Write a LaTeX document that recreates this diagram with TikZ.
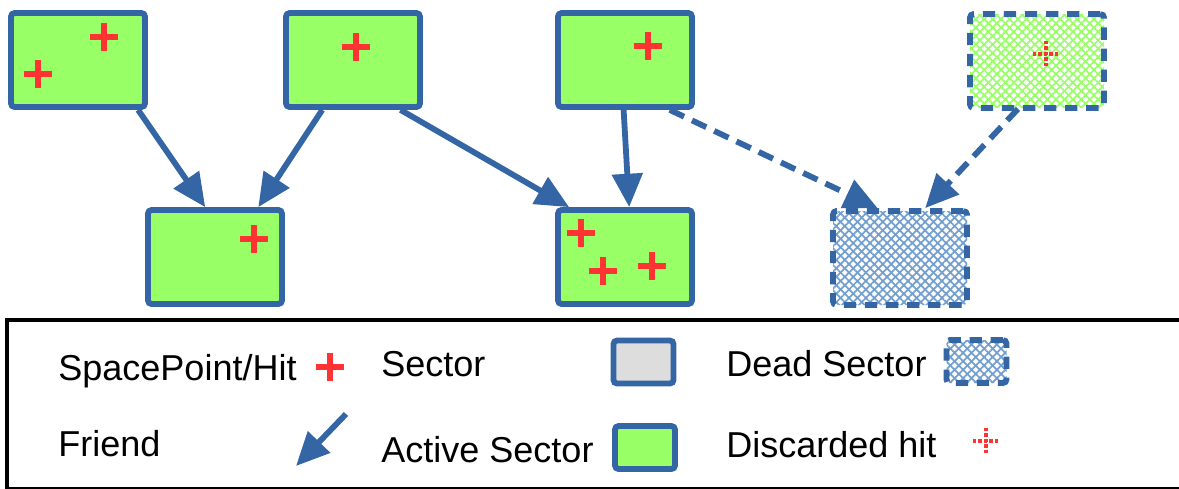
\documentclass[tikz,border=0pt]{standalone}
\usepackage{fontspec}
\setmainfont{Liberation Sans}
\usetikzlibrary{arrows.meta}
\usetikzlibrary{calc}
\usetikzlibrary{patterns.meta}

\definecolor{secblue}{HTML}{3465A4}
\definecolor{secgreen}{HTML}{99FF66}
\definecolor{secgrey}{HTML}{DDDDDD}
\definecolor{hitred}{HTML}{FF3333}
\definecolor{hatchblue}{HTML}{729FCF}

\tikzset{
	sector/.style={draw=secblue, line width=3.3pt, rounded corners=2pt, inner sep=0pt,
		minimum width=2.68cm, minimum height=1.88cm},
	active/.style={sector, fill=secgreen},
	dead/.style={sector, dash pattern=on 7pt off 5pt,
		preaction={pattern={Lines[angle=45,distance=3.4pt,line width=1pt]}, pattern color=#1},
		pattern={Lines[angle=-45,distance=3.4pt,line width=1pt]}, pattern color=#1},
	small/.style={minimum width=1.2cm, minimum height=0.86cm},
	friend/.style={secblue, line width=3.3pt, -{Triangle[length=19pt,width=17pt]}},
	lostfriend/.style={friend, dash pattern=on 9pt off 5pt},
	label/.style={anchor=base west, inner sep=0pt, font=\fontsize{20.5}{24}\selectfont},
	hit/.pic={\draw[hitred, line width=3.2pt] (-14,0) -- (14,0) (0,-14) -- (0,14);},
	lost/.pic={\draw[hitred, line width=2pt, dash pattern=on 1.8pt off 1.3pt]
		(-13,0) -- (13,0) (0,-13) -- (0,13);}
}

\begin{document}
\begin{tikzpicture}[x=0.02cm, y=-0.02cm]
	\useasboundingbox (0,0) rectangle (1179,488);

	% sectors, upper layer
	\node[active] (a) at (78,60) {};
	\node[active] (b) at (353,60) {};
	\node[active] (c) at (625,60) {};
	\node[dead=secgreen] (d) at (1037,61) {};
	% sectors, lower layer
	\node[active] (e) at (215,257) {};
	\node[active] (f) at (625,257) {};
	\node[dead=hatchblue] (g) at (900,258) {};

	% hits
	\pic at (104,37) {hit};
	\pic at (38,74) {hit};
	\pic at (356,47) {hit};
	\pic at (648,46) {hit};
	\pic at (254,239) {hit};
	\pic at (581,233) {hit};
	\pic at (603,271) {hit};
	\pic at (652,266) {hit};
	\pic at (1046,54) {lost};

	% friend relations
	\draw[friend] ($(a.south west)!0.93!(a.south east)$) -- ($(e.north west)!0.43!(e.north east)$);
	\draw[friend] ($(b.south west)!0.28!(b.south east)$) -- ($(e.north west)!0.81!(e.north east)$);
	\draw[friend] ($(b.south west)!0.84!(b.south east)$) -- ($(f.north west)!0.10!(f.north east)$);
	\draw[friend] ($(c.south west)!0.49!(c.south east)$) -- ($(f.north west)!0.53!(f.north east)$);
	\draw[lostfriend] ($(c.south west)!0.82!(c.south east)$) -- ($(g.north west)!0.34!(g.north east)$);
	\draw[lostfriend] ($(d.south west)!0.36!(d.south east)$) -- ($(g.north west)!0.68!(g.north east)$);

	% legend
	\draw[line width=2.6pt] (7,320) rectangle (1210,489.5);
	\node[label] (lhit) at (58,380) {SpacePoint/Hit};
	\pic at (330,367) {hit};
	\node[label] (lsector) at (381,376) {Sector};
	\node[sector, small, fill=secgrey] (lsecbox) at (643.5,362) {};
	\node[label] (ldead) at (726,376) {Dead Sector};
	\node[dead=hatchblue, small] (ldeadbox) at (976.5,361.5) {};
	\node[label] (lfriend) at (58,456) {Friend};
	\coordinate (ftail) at (346,414);
	\coordinate (fhead) at (296,466);
	\draw[friend] (ftail) -- (fhead);
	\node[label] (lactive) at (381,462) {Active Sector};
	\node[active, small] (lactbox) at (645,447.5) {};
	\node[label] (ldisc) at (726,457) {Discarded hit};
	\pic at (986,441) {lost};
\end{tikzpicture}
\end{document}
